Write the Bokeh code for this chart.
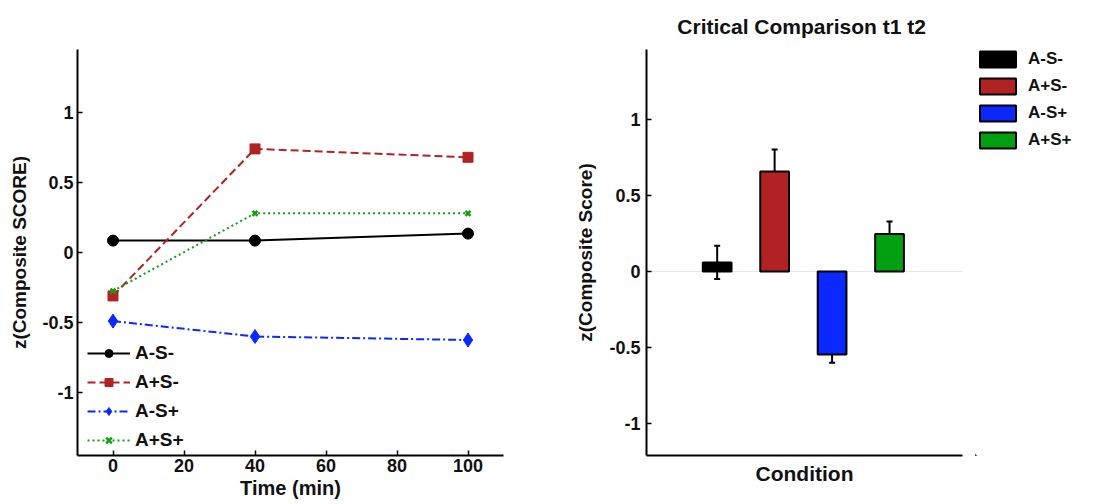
from bokeh.plotting import figure
from bokeh.layouts import row
from bokeh.models import Legend, LegendItem, FixedTicker, Span, Whisker, ColumnDataSource
from bokeh.embed import file_html
from bokeh.resources import INLINE

# ---- data ----
time_min = [0, 40, 100]
series_names = ["A-S-", "A+S-", "A-S+", "A+S+"]
as_minus_minus = [0.085, 0.085, 0.135]
ap_s_minus = [-0.31, 0.74, 0.68]
as_minus_plus = [-0.49, -0.60, -0.625]
ap_s_plus = [-0.275, 0.28, 0.28]

bar_conditions = ["A-S-", "A+S-", "A-S+", "A+S+"]
bar_means = [0.06, 0.657, -0.545, 0.246]
bar_errors = [0.11, 0.145, 0.055, 0.083]

x_ticks = [0, 20, 40, 60, 80, 100]
y_ticks = [-1, -0.5, 0, 0.5, 1]

FONT = "Liberation Sans"

def style_axes(p):
    for ax in [p.xaxis[0], p.yaxis[0]]:
        ax.axis_line_width = 2
        ax.axis_line_color = "black"
        ax.major_tick_in = 5
        ax.major_tick_out = 0
        ax.minor_tick_in = 0
        ax.minor_tick_out = 0
        ax.major_tick_line_width = 1.5
        ax.major_label_text_font = FONT
        ax.major_label_text_font_style = "bold"
        ax.major_label_text_font_size = "18px"
        ax.major_label_text_color = "#111111"
        ax.axis_label_text_font = FONT
        ax.axis_label_text_font_style = "bold"
        ax.axis_label_text_font_size = "20px"
        ax.axis_label_text_color = "#111111"
    p.grid.visible = False
    p.outline_line_color = None

# ---- left: line chart ----
p1 = figure(width=545, height=504, x_range=(-10, 110), y_range=(-1.45, 1.45),
            output_backend="svg", toolbar_location=None,
            min_border_left=77, min_border_right=42, min_border_top=47, min_border_bottom=48)
style_axes(p1)
p1.xaxis.ticker = FixedTicker(ticks=x_ticks)
p1.yaxis.ticker = FixedTicker(ticks=y_ticks)
p1.yaxis.major_label_overrides = {-1: "-1", -0.5: "-0.5", 0: "0", 0.5: "0.5", 1: "1"}
p1.xaxis.axis_label = "Time (min)"
p1.yaxis.axis_label = "z(Composite SCORE)"
p1.yaxis.axis_label_text_font_size = "19px"
p1.xaxis.major_label_standoff = 3
p1.xaxis.axis_label_standoff = 2
p1.yaxis.major_label_standoff = 4
p1.yaxis.axis_label_standoff = 9

c_red = "#b22222"
c_blue = "#0a28ff"
c_green = "#10a010"

l1 = p1.line(time_min, as_minus_minus, line_color="black", line_width=2)
m1 = p1.scatter(time_min, as_minus_minus, marker="circle", size=11, fill_color="black", line_color="black")
l2 = p1.line(time_min, ap_s_minus, line_color=c_red, line_width=2, line_dash="8 4")
m2 = p1.scatter(time_min, ap_s_minus, marker="square", size=10, fill_color=c_red, line_color=c_red)
l3 = p1.line(time_min, as_minus_plus, line_color=c_blue, line_width=2, line_dash="8 3 2 3")
m3 = p1.scatter(time_min, as_minus_plus, marker="diamond", size=14, fill_color=c_blue, line_color=c_blue)
l4 = p1.line(time_min, ap_s_plus, line_color=c_green, line_width=2, line_dash="2 3")
m4 = p1.scatter(time_min, ap_s_plus, marker="x", size=7, line_color=c_green, line_width=2.5)

leg1 = Legend(items=[LegendItem(label=series_names[0], renderers=[l1, m1]),
                     LegendItem(label=series_names[1], renderers=[l2, m2]),
                     LegendItem(label=series_names[2], renderers=[l3, m3]),
                     LegendItem(label=series_names[3], renderers=[l4, m4])],
              location=(10, 4), margin=0, padding=0, spacing=7,
              glyph_width=43, glyph_height=20, label_height=20, label_standoff=5,
              label_text_font=FONT, label_text_font_style="bold", label_text_font_size="19px",
              label_text_color="#111111",
              border_line_color=None, background_fill_alpha=0)
p1.add_layout(leg1)

# ---- right: bar chart ----
bar_x = [1, 2, 3, 4]
bar_colors = ["#000000", c_red, c_blue, "#00a010"]
src = ColumnDataSource(dict(x=bar_x,
                            upper=[m + e for m, e in zip(bar_means, bar_errors)],
                            lower=[m - e for m, e in zip(bar_means, bar_errors)]))

p2 = figure(width=430, height=504, x_range=(-0.23, 5.27), y_range=(-1.21, 1.46),
            output_backend="svg", toolbar_location=None,
            min_border_left=101, min_border_right=13, min_border_top=49, min_border_bottom=49)
style_axes(p2)
p2.title.text = "Critical Comparison  t1 t2"
p2.title.align = "center"
p2.title.text_font = FONT
p2.title.text_font_style = "bold"
p2.title.text_font_size = "21px"
p2.title.text_color = "#111111"
p2.title.standoff = 23
p2.xaxis.ticker = FixedTicker(ticks=[])
p2.xaxis.major_tick_in = 0
p2.xaxis.axis_label = "Condition"
p2.xaxis.axis_label_text_font_size = "21px"
p2.xaxis.axis_label_standoff = 6
p2.yaxis.ticker = FixedTicker(ticks=y_ticks)
p2.yaxis.major_label_overrides = {-1: "-1", -0.5: "-0.5", 0: "0", 0.5: "0.5", 1: "1"}
p2.yaxis.axis_label = "z(Composite Score)"
p2.yaxis.axis_label_text_font_size = "19px"
p2.yaxis.major_label_standoff = 6
p2.yaxis.axis_label_standoff = 10

p2.add_layout(Span(location=0, dimension="width", line_color="#e6e6e6", line_width=1, level="underlay"))

wh = Whisker(source=src, base="x", upper="upper", lower="lower", line_color="black", line_width=2,
             level="underlay")
wh.upper_head.size = 6
wh.lower_head.size = 6
wh.upper_head.line_width = 2
wh.lower_head.line_width = 2
p2.add_layout(wh)

for i in range(4):
    s = ColumnDataSource(dict(x=[bar_x[i]], top=[bar_means[i]]))
    p2.vbar(x="x", top="top", bottom=0, width=0.5, source=s,
            fill_color=bar_colors[i], line_color="black", line_width=2)

# ---- legend panel for the bar chart ----
p3 = figure(width=122, height=504, x_range=(0, 1), y_range=(0, 1),
            x_axis_type=None, y_axis_type=None,
            output_backend="svg", toolbar_location=None,
            min_border_left=0, min_border_right=0, min_border_top=49, min_border_bottom=0)
p3.grid.visible = False
p3.outline_line_color = None
leg_items = []
for i in range(4):
    # legend-key proxies placed far outside the visible range
    r = p3.vbar(x=[-1000], top=[-1000], bottom=-1001, width=0.5,
                fill_color=bar_colors[i], line_color="black", line_width=2)
    leg_items.append(LegendItem(label=bar_conditions[i], renderers=[r]))

leg2 = Legend(items=leg_items,
              location="top_left", margin=0, padding=12, spacing=7,
              glyph_width=45, glyph_height=20, label_height=20, label_standoff=8,
              label_text_font=FONT, label_text_font_style="bold", label_text_font_size="17px",
              label_text_color="#111111",
              border_line_color=None, background_fill_alpha=0)
p3.add_layout(leg2)

layout = row(p1, p2, p3, spacing=0)
open("out.html", "w").write(file_html(layout, INLINE))
